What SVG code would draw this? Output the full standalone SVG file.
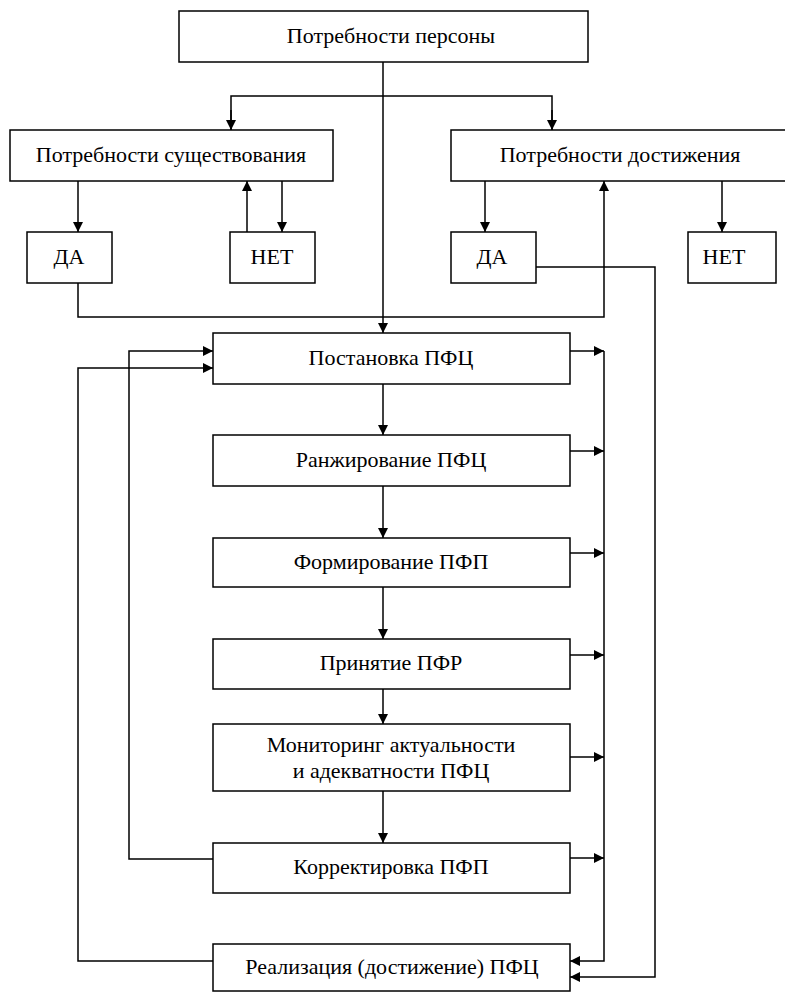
<svg xmlns="http://www.w3.org/2000/svg" width="785" height="993" viewBox="0 0 785 993">
<defs>
<style>
.box{fill:#fff;stroke:#000;stroke-width:1.5}
.t{font-family:"Liberation Serif","Times New Roman",serif;font-size:22px;fill:#000;text-anchor:middle}
.c{fill:none;stroke:#000;stroke-width:1.5}
</style>
<marker id="ah" markerUnits="userSpaceOnUse" markerWidth="11" markerHeight="11" refX="10" refY="5" orient="auto">
<path d="M0,0 L10,5 L0,10 z" fill="#000"/>
</marker>
</defs>
<rect width="785" height="993" fill="#fff"/>
<g id="connectors">
<path class="c" d="M383,62 V333" marker-end="url(#ah)"/>
<path class="c" d="M231,130 V96 H552 V130" />
<path class="c" d="M231,110 V130" marker-end="url(#ah)"/>
<path class="c" d="M552,110 V130" marker-end="url(#ah)"/>
<path class="c" d="M78,181 V232" marker-end="url(#ah)"/>
<path class="c" d="M247,232 V181" marker-end="url(#ah)"/>
<path class="c" d="M282,181 V232" marker-end="url(#ah)"/>
<path class="c" d="M78,283 V317 H604 V181" marker-end="url(#ah)"/>
<path class="c" d="M485,181 V232" marker-end="url(#ah)"/>
<path class="c" d="M722,181 V232" marker-end="url(#ah)"/>
<path class="c" d="M536,267 H655 V977 H570" marker-end="url(#ah)"/>
<path class="c" d="M383,384 V435" marker-end="url(#ah)"/>
<path class="c" d="M383,486 V538" marker-end="url(#ah)"/>
<path class="c" d="M383,587 V639" marker-end="url(#ah)"/>
<path class="c" d="M383,689 V724" marker-end="url(#ah)"/>
<path class="c" d="M383,791 V843" marker-end="url(#ah)"/>
<path class="c" d="M570,351 H604" marker-end="url(#ah)"/>
<path class="c" d="M570,451 H604" marker-end="url(#ah)"/>
<path class="c" d="M570,553 H604" marker-end="url(#ah)"/>
<path class="c" d="M570,655 H604" marker-end="url(#ah)"/>
<path class="c" d="M570,757 H604" marker-end="url(#ah)"/>
<path class="c" d="M570,858 H604" marker-end="url(#ah)"/>
<path class="c" d="M604,351 V961 H570" marker-end="url(#ah)"/>
<path class="c" d="M213,859 H129 V351 H213" marker-end="url(#ah)"/>
<path class="c" d="M213,961 H78 V368 H213" marker-end="url(#ah)"/>
</g>
<g id="n-persona"><rect class="box" x="179" y="11" width="409" height="51"/><text class="t" x="391" y="43">Потребности персоны</text></g>
<g id="n-exist"><rect class="box" x="10" y="130" width="323" height="51"/><text class="t" x="171" y="162">Потребности существования</text></g>
<g id="n-achieve"><rect class="box" x="451" y="130" width="340" height="51"/><text class="t" x="620" y="162">Потребности достижения</text></g>
<g id="n-da1"><rect class="box" x="27" y="232" width="85" height="51"/><text class="t" x="69" y="264">ДА</text></g>
<g id="n-net1"><rect class="box" x="230" y="232" width="85" height="51"/><text class="t" x="272" y="264">НЕТ</text></g>
<g id="n-da2"><rect class="box" x="451" y="232" width="85" height="51"/><text class="t" x="492" y="264">ДА</text></g>
<g id="n-net2"><rect class="box" x="688" y="232" width="88" height="51"/><text class="t" x="724" y="264">НЕТ</text></g>
<g id="n-post"><rect class="box" x="213" y="333" width="357" height="51"/><text class="t" x="391" y="365">Постановка ПФЦ</text></g>
<g id="n-rank"><rect class="box" x="213" y="435" width="357" height="51"/><text class="t" x="391" y="467">Ранжирование ПФЦ</text></g>
<g id="n-form"><rect class="box" x="213" y="538" width="357" height="49"/><text class="t" x="391" y="569">Формирование ПФП</text></g>
<g id="n-prin"><rect class="box" x="213" y="639" width="357" height="50"/><text class="t" x="391" y="670">Принятие ПФР</text></g>
<g id="n-mon"><rect class="box" x="213" y="724" width="357" height="67"/><text class="t" x="391" y="752">Мониторинг актуальности</text><text class="t" x="391" y="778">и адекватности ПФЦ</text></g>
<g id="n-korr"><rect class="box" x="213" y="843" width="357" height="50"/><text class="t" x="391" y="874">Корректировка ПФП</text></g>
<g id="n-real"><rect class="box" x="213" y="944" width="357" height="47"/><text class="t" x="392" y="974">Реализация (достижение) ПФЦ</text></g>
</svg>
